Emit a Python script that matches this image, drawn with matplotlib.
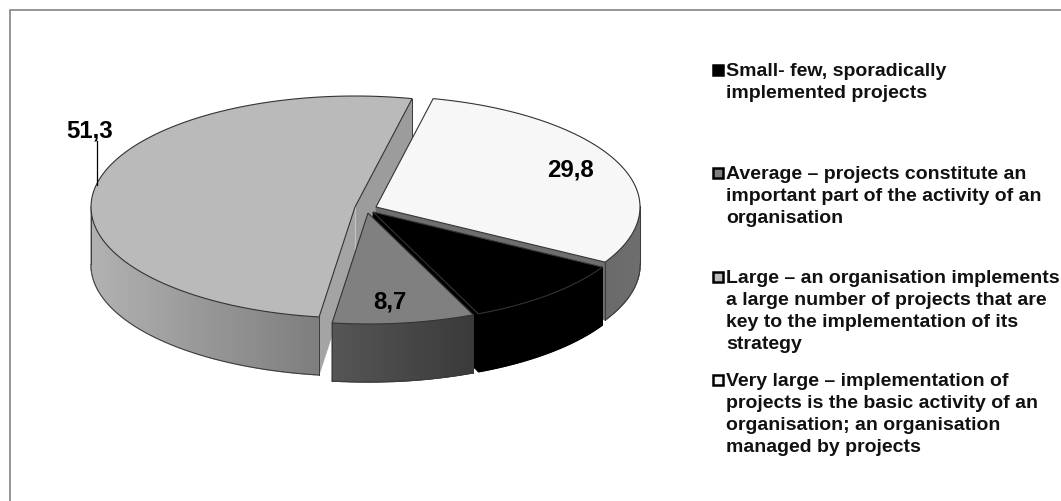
import numpy as np
import matplotlib
matplotlib.use("Agg")
import matplotlib.pyplot as plt
from matplotlib.patches import Polygon, Rectangle
from matplotlib.colors import to_rgb

categories = ["Large", "Average", "Small", "Very large"]
values = [51.3, 8.7, 10.2, 29.8]
value_labels = ["51,3", "8,7", None, "29,8"]
legend_labels = [
    "Small- few, sporadically\nimplemented projects",
    "Average – projects constitute an\nimportant part of the activity of an\norganisation",
    "Large – an organisation implements\na large number of projects that are\nkey to the implementation of its\nstrategy",
    "Very large – implementation of\nprojects is the basic activity of an\norganisation; an organisation\nmanaged by projects",
]
legend_colors = ["#000000", "#7f7f7f", "#bdbdbd", "#f7f7f7"]

START = 77.5
A, B, H = 264.0, 111.0, 58.0
centers = {"Large": (355, 208), "Average": (368, 214), "Small": (373, 213), "Very large": (376, 208)}
top_colors = {"Large": "#bababa", "Average": "#808080", "Small": "#000000", "Very large": "#f7f7f7"}
side_colors = {"Large": ("#b2b2b2", "#7e7e7e"), "Average": ("#565656", "#3a3a3a"),
               "Small": ("#000000", "#000000"), "Very large": ("#6a6a6a", "#6e6e6e")}

W, HT = 1061, 502
fig = plt.figure(figsize=(W / 100, HT / 100), dpi=100)
ax = fig.add_axes([0, 0, 1, 1])
ax.set_xlim(0, W)
ax.set_ylim(HT, 0)
ax.axis("off")
plt.rcParams["font.family"] = ["Liberation Sans"]

ax.plot([9.5, 9.5, W], [HT, 10.5, 10.5], color="#7a7a7a", lw=1.1, zorder=0, solid_joinstyle="miter")

fractions = np.array(values) / np.sum(values) * 360
ends = START + np.cumsum(fractions)
starts = ends - fractions
spans = dict(zip(categories, zip(starts, ends)))


def pt(name, deg):
    cx, cy = centers[name]
    r = np.radians(deg)
    return np.array([cx + A * np.cos(r), cy - B * np.sin(r)])


def arc(name, a0, a1, n=120):
    return np.array([pt(name, d) for d in np.linspace(a0, a1, n)])


def outer_side(name, z, edge="#3a3a3a"):
    a0, a1 = spans[name]
    ds = [d for d in np.linspace(a0, a1, 160) if np.sin(np.radians(d)) <= 0.02]
    xs = np.array([pt(name, d) for d in ds])
    c0 = np.array(to_rgb(side_colors[name][0]))
    c1 = np.array(to_rgb(side_colors[name][1]))
    xmin, xmax = xs[:, 0].min(), xs[:, 0].max()
    for p, q in zip(xs[:-1], xs[1:]):
        t = ((p[0] + q[0]) / 2 - xmin) / max(xmax - xmin, 1)
        col = c0 + (c1 - c0) * t
        ax.add_patch(Polygon([p, q, q + [0, H], p + [0, H]], closed=True, fc=col, ec=col, lw=1.0, zorder=z))
    if edge:
        ax.plot(xs[:, 0], xs[:, 1] + H, color=edge, lw=0.7, zorder=z + 0.1)
        ax.plot([xs[0, 0]] * 2, [xs[0, 1], xs[0, 1] + H], color=edge, lw=0.7, zorder=z + 0.1)
        ax.plot([xs[-1, 0]] * 2, [xs[-1, 1], xs[-1, 1] + H], color=edge, lw=0.7, zorder=z + 0.1)


def cut_face(name, deg, color, z):
    c = np.array(centers[name], float)
    p = pt(name, deg)
    ax.add_patch(Polygon([c, p, p + [0, H], c + [0, H]], closed=True, fc=color, ec=color, lw=0.5, zorder=z))


def top(name, z):
    a0, a1 = spans[name]
    poly = np.vstack([centers[name], arc(name, a0, a1)])
    ax.add_patch(Polygon(poly, closed=True, fc=top_colors[name], ec="#333333", lw=0.8, zorder=z))


# Large
cut_face("Large", spans["Large"][0], "#9c9c9c", 1)
cut_face("Large", spans["Large"][1], "#a4a4a4", 1)
cx, cy = centers["Large"]
ax.plot([cx, cx], [cy, cy + H * 0.75], color="#c4c4c4", lw=0.8, zorder=1.5)
p_end = pt("Large", spans["Large"][0])
ax.plot([p_end[0]] * 2, [p_end[1], p_end[1] + H], color="#3a3a3a", lw=0.7, zorder=1.5)
outer_side("Large", 2)
top("Large", 3)
# Very large
cut_face("Very large", spans["Very large"][0], "#6e6e6e", 4)
outer_side("Very large", 4.5)
top("Very large", 5)
# Small
cut_face("Small", spans["Small"][0], "#000000", 6)
outer_side("Small", 6, edge=None)
top("Small", 7)
# Average
outer_side("Average", 8)
top("Average", 9)

label_pos = {"Large": (90, 131), "Average": (390, 302), "Very large": (570.5, 170)}
for name, lab in zip(categories, value_labels):
    if lab:
        ax.text(*label_pos[name], lab, fontsize=17.3, fontweight="bold", ha="center", va="center",
                color="black", zorder=12)
ax.plot([97, 97], [142, 186], color="black", lw=0.9, zorder=11)

legend_y = [71, 174, 278, 381]
for lab, col, y in zip(legend_labels, legend_colors, legend_y):
    ax.add_patch(Rectangle((712.5, y - 5.5), 10, 10, fc=col, ec="black", lw=1.8, zorder=12))
    ax.text(726, y - 7.5, lab, fontsize=14, fontweight="bold", ha="left", va="top",
            linespacing=1.37, color="#111111", zorder=12)

fig.savefig("out.png", dpi=100, facecolor="white")
